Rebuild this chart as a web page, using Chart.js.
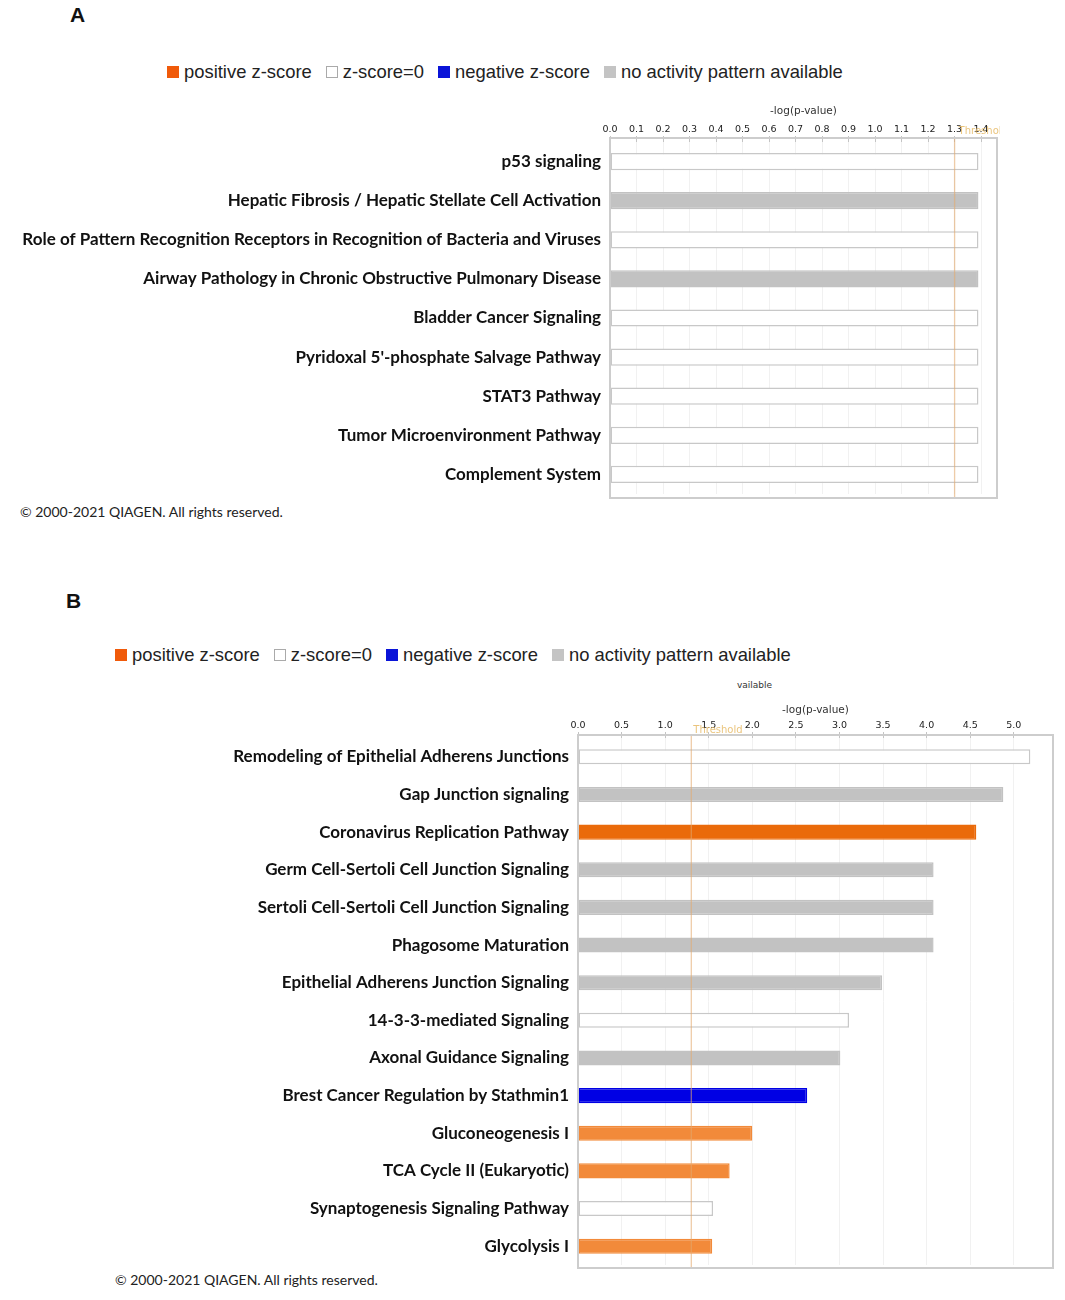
<!DOCTYPE html>
<html>
<head>
<meta charset="utf-8">
<script src="https://cdn.jsdelivr.net/npm/chart.js@4.4.0/dist/chart.umd.min.js"></script>
<style>
    body { margin: 0; background: #fff; }
    #page { position: relative; width: 1065px; height: 1300px; overflow: hidden; font-family: 'Liberation Sans', Arial, sans-serif; color: #111; }
    .abs { position: absolute; }
    .letter { font-weight: bold; font-size: 21px; }
    .legend { display: flex; align-items: center; font-size: 18.4px; color: #222; white-space: nowrap; }
    .legend .item { display: flex; align-items: center; margin-right: 14px; }
    .legend .sw { width: 12px; height: 12px; margin-right: 5px; box-sizing: border-box; }
    .copy { font-family: Lato, 'Open Sans', sans-serif; font-size: 14px; color: #222; white-space: nowrap; }
    canvas { position: absolute; left: 0; }
</style>
</head>
<body>
<div id="page">
    <div class="abs letter" style="left:70px; top:3px;">A</div>
    <div class="abs legend" id="legend-a" style="left:167px; top:61px;"></div>
    <canvas id="chart-a" width="1065" height="400" style="top:100px;"></canvas>
    <div class="abs copy" style="left:20px; top:503px;">© 2000-2021 QIAGEN. All rights reserved.</div>

    <div class="abs letter" style="left:66px; top:589px;">B</div>
    <div class="abs legend" id="legend-b" style="left:115px; top:644px;"></div>
    <div class="abs" style="left:737px; top:680px; font: 9px 'DejaVu Sans'; color:#333;">vailable</div>
    <canvas id="chart-b" width="1065" height="574" style="top:696px;"></canvas>
    <div class="abs copy" style="left:115px; top:1271px;">© 2000-2021 QIAGEN. All rights reserved.</div>
</div>

<script>
// legend entries
const legendKeys = ['pos', 'zero', 'neg', 'na'];
const legendNames = ['positive z-score', 'z-score=0', 'negative z-score', 'no activity pattern available'];

// panel A
const pathwaysA = [
    'p53 signaling',
    'Hepatic Fibrosis / Hepatic Stellate Cell Activation',
    'Role of Pattern Recognition Receptors in Recognition of Bacteria and Viruses',
    'Airway Pathology in Chronic Obstructive Pulmonary Disease',
    'Bladder Cancer Signaling',
    "Pyridoxal 5'-phosphate Salvage Pathway",
    'STAT3 Pathway',
    'Tumor Microenvironment Pathway',
    'Complement System'
];
const logPA = [1.39, 1.39, 1.39, 1.39, 1.39, 1.39, 1.39, 1.39, 1.39];
const zscoreA = ['zero', 'na', 'zero', 'na', 'zero', 'zero', 'zero', 'zero', 'zero'];

// panel B
const pathwaysB = [
    'Remodeling of Epithelial Adherens Junctions',
    'Gap Junction signaling',
    'Coronavirus Replication Pathway',
    'Germ Cell-Sertoli Cell Junction Signaling',
    'Sertoli Cell-Sertoli Cell Junction Signaling',
    'Phagosome Maturation',
    'Epithelial Adherens Junction Signaling',
    '14-3-3-mediated Signaling',
    'Axonal Guidance Signaling',
    'Brest Cancer Regulation by Stathmin1',
    'Gluconeogenesis I',
    'TCA Cycle II (Eukaryotic)',
    'Synaptogenesis Signaling Pathway',
    'Glycolysis I'
];
const logPB = [5.19, 4.88, 4.57, 4.08, 4.08, 4.08, 3.49, 3.11, 3.01, 2.63, 2.00, 1.74, 1.55, 1.54];
const zscoreB = ['zero', 'na', 'pos2', 'na', 'na', 'na', 'na', 'zero', 'na', 'neg', 'pos', 'pos', 'zero', 'pos'];

const threshold = 1.3;
const axisA = { max: 1.46, step: 0.1 };
const axisB = { max: 5.45, step: 0.5 };

const fills = { pos: '#f28a3a', pos2: '#ea6a0a', zero: '#ffffff', neg: '#0000e4', na: '#c2c2c2' };
const edges = { pos: '#f28a3a', pos2: '#ea6a0a', zero: '#c8c8c8', neg: '#0000e4', na: '#c2c2c2' };
const legendFills = { pos: '#f05a0a', zero: '#ffffff', neg: '#0a14d8', na: '#c4c4c4' };

function buildLegend(id) {
    const box = document.getElementById(id);
    legendKeys.forEach((k, i) => {
        const item = document.createElement('div');
        item.className = 'item';
        const sw = document.createElement('span');
        sw.className = 'sw';
        sw.style.background = legendFills[k];
        sw.style.border = '1px solid ' + (k === 'zero' ? '#aaa' : legendFills[k]);
        item.appendChild(sw);
        item.appendChild(document.createTextNode(legendNames[i]));
        box.appendChild(item);
    });
}
buildLegend('legend-a');
buildLegend('legend-b');

// box around the plot, threshold line + label
const framePlugin = {
    id: 'frame',
    afterDatasetsDraw(chart, args, opts) {
        const { ctx, chartArea: a, scales: { x } } = chart;
        const tx = x.getPixelForValue(threshold);
        ctx.save();
        ctx.strokeStyle = 'rgba(226,170,110,0.6)';
        ctx.lineWidth = 1.3;
        ctx.beginPath();
        ctx.moveTo(tx, a.top - opts.pad);
        ctx.lineTo(tx, a.bottom + opts.pad);
        ctx.stroke();

        ctx.strokeStyle = '#cdcdcd';
        ctx.lineWidth = 2;
        ctx.strokeRect(a.left, a.top - opts.pad, a.right - a.left, a.bottom - a.top + 2 * opts.pad);

        ctx.beginPath();
        ctx.rect(0, 0, a.right + 3, chart.height);
        ctx.clip();
        ctx.fillStyle = 'rgba(232,190,110,0.9)';
        ctx.font = '10px "DejaVu Sans"';
        ctx.textBaseline = 'middle';
        ctx.fillText('Threshold', tx + opts.textDx, a.top - opts.textDy);
        ctx.restore();
    }
};

function makeChart(id, labels, values, zs, axis, o) {
    return new Chart(document.getElementById(id).getContext('2d'), {
        type: 'bar',
        data: {
            labels: labels,
            datasets: [{
                data: values,
                backgroundColor: zs.map(z => fills[z]),
                borderColor: zs.map(z => edges[z]),
                borderWidth: 1.5,
                borderSkipped: false,
                categoryPercentage: 1,
                barPercentage: o.barPct
            }]
        },
        options: {
            indexAxis: 'y',
            responsive: false,
            animation: false,
            layout: { padding: { left: 0, right: o.padRight, top: 0, bottom: o.padBottom } },
            plugins: {
                legend: { display: false },
                tooltip: { enabled: false },
                frame: { pad: o.boxPad, textDx: o.textDx, textDy: o.textDy }
            },
            scales: {
                x: {
                    position: 'top',
                    min: 0,
                    max: axis.max,
                    afterFit: s => { s.height = o.xHeight; },
                    title: {
                        display: true,
                        text: '-log(p-value)',
                        color: '#333',
                        font: { family: 'DejaVu Sans', size: 10.5 },
                        padding: { top: o.titleTop, bottom: 0 }
                    },
                    ticks: {
                        stepSize: axis.step,
                        includeBounds: false,
                        color: '#222',
                        font: { family: 'DejaVu Sans', size: 9.5 },
                        padding: 1,
                        maxRotation: 0,
                        callback: v => v.toFixed(1)
                    },
                    grid: { color: '#f1f1f1', tickColor: '#c4c4c4', tickLength: o.tickLen },
                    border: { display: false }
                },
                y: {
                    afterFit: s => {
                        s.width = o.yWidth;
                        s.paddingTop = 0;
                        s.paddingBottom = 0;
                    },
                    ticks: {
                        color: '#111',
                        font: { family: 'Lato', size: 17, weight: 'bold' },
                        padding: 1
                    },
                    grid: { display: false },
                    border: { display: false }
                }
            }
        },
        plugins: [framePlugin]
    });
}

makeChart('chart-a', pathwaysA, logPA, zscoreA, axisA, {
    barPct: 0.44, padRight: 68, padBottom: 6, xHeight: 42, yWidth: 610,
    titleTop: 5, tickLen: 6, boxPad: 4, textDx: 4, textDy: 11
});
makeChart('chart-b', pathwaysB, logPB, zscoreB, axisB, {
    barPct: 0.40, padRight: 12, padBottom: 5, xHeight: 42, yWidth: 578,
    titleTop: 8, tickLen: 6, boxPad: 3, textDx: 2, textDy: 8
});
</script>
</body>
</html>
